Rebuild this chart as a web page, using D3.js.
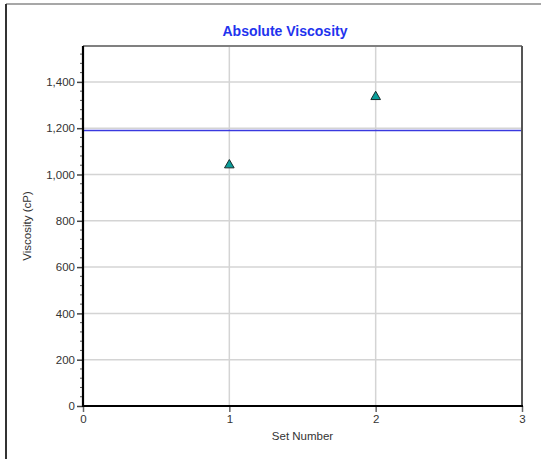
<!DOCTYPE html>
<html><head><meta charset="utf-8">
<script src="https://cdn.jsdelivr.net/npm/d3@7"></script>
<style>body{margin:0;background:#fff;}svg{display:block;}</style>
</head><body>
<svg id="c" width="541" height="459"></svg>
<script>
const setNumbers = [1, 2];
const viscosity = [1045, 1340];
const referenceLine = 1190;
const xTicks = [0, 1, 2, 3];
const yTicks = [0, 200, 400, 600, 800, 1000, 1200, 1400];
const title = "Absolute Viscosity";
const xLabel = "Set Number";
const yLabel = "Viscosity (cP)";

const svg = d3.select("#c");
const L = 83, R = 522, T = 46, B = 406;
const x = d3.scaleLinear().domain([0, 3]).range([L, R]);
const y = d3.scaleLinear().domain([0, 1555]).range([B, T]);

// outer frame
svg.append("line").attr("x1",6).attr("y1",4).attr("x2",541).attr("y2",4).attr("stroke","#8a8a8a").attr("stroke-width",1.5);
svg.append("line").attr("x1",6).attr("y1",4).attr("x2",6).attr("y2",459).attr("stroke","#333").attr("stroke-width",2);

// grid
svg.append("g").selectAll("line").data(yTicks.filter(d=>d>0)).join("line")
  .attr("x1",L).attr("x2",R).attr("y1",d=>y(d)).attr("y2",d=>y(d))
  .attr("stroke","#d4d4d4").attr("stroke-width",1.5);
svg.append("g").selectAll("line").data(xTicks.filter(d=>d>0&&d<3)).join("line")
  .attr("y1",T).attr("y2",B).attr("x1",d=>x(d)).attr("x2",d=>x(d))
  .attr("stroke","#d4d4d4").attr("stroke-width",1.5);

// reference line
svg.append("line").attr("x1",L).attr("x2",R).attr("y1",y(referenceLine)).attr("y2",y(referenceLine))
  .attr("stroke","#3a3adf").attr("stroke-width",1.3);

// plot border top/right
svg.append("line").attr("x1",L).attr("x2",R).attr("y1",T).attr("y2",T).attr("stroke","#808080").attr("stroke-width",2);
svg.append("line").attr("x1",R).attr("x2",R).attr("y1",T).attr("y2",B).attr("stroke","#555").attr("stroke-width",2);

// y axis
const yAxis = d3.axisLeft(y).tickValues(yTicks).tickSize(6).tickPadding(2).tickFormat(d3.format(","));
const gy = svg.append("g").attr("transform",`translate(${L},0)`).call(yAxis);
gy.select(".domain").remove();
gy.selectAll(".tick line").attr("stroke","#444").attr("stroke-width",1.5);
gy.selectAll("text").attr("font-family","Liberation Sans, Arial, sans-serif").attr("font-size",11.5).attr("fill","#333");
// minor ticks
const minor = d3.range(40, 1555, 40).filter(v => v % 200 !== 0);
svg.append("g").selectAll("line").data(minor).join("line")
  .attr("x1",L-3).attr("x2",L).attr("y1",d=>y(d)).attr("y2",d=>y(d)).attr("stroke","#555").attr("stroke-width",1);
svg.append("line").attr("x1",L).attr("x2",L).attr("y1",T).attr("y2",B+1).attr("stroke","#000").attr("stroke-width",2.2);

// x axis
const xAxis = d3.axisBottom(x).tickValues(xTicks).tickSize(6).tickPadding(3).tickFormat(d3.format("d"));
const gx = svg.append("g").attr("transform",`translate(0,${B})`).call(xAxis);
gx.select(".domain").remove();
gx.selectAll(".tick line").attr("stroke","#666").attr("stroke-width",1.5);
gx.selectAll("text").attr("font-family","Liberation Sans, Arial, sans-serif").attr("font-size",11.5).attr("fill","#333");
svg.append("line").attr("x1",L-1).attr("x2",R+1).attr("y1",B).attr("y2",B).attr("stroke","#000").attr("stroke-width",2.2);

// points
const tri = d3.symbol().type(d3.symbolTriangle).size(40);
svg.append("g").selectAll("path").data(setNumbers.map((s,i)=>({s,v:viscosity[i]}))).join("path")
  .attr("d",tri).attr("transform",d=>`translate(${x(d.s)},${y(d.v)+1})`)
  .attr("fill","#0a9e9a").attr("stroke","#1a2a2a").attr("stroke-width",1);

// labels
svg.append("text").attr("x",285).attr("y",35.5).attr("text-anchor","middle")
  .attr("font-family","Liberation Sans, Arial, sans-serif").attr("font-size",14).attr("font-weight","bold")
  .attr("fill","#2233ee").text(title);
svg.append("text").attr("x",(L+R)/2).attr("y",440).attr("text-anchor","middle")
  .attr("font-family","Liberation Sans, Arial, sans-serif").attr("font-size",11.5).attr("fill","#333").text(xLabel);
svg.append("text").attr("transform",`translate(31,${(T+B)/2}) rotate(-90)`).attr("text-anchor","middle")
  .attr("font-family","Liberation Sans, Arial, sans-serif").attr("font-size",11.5).attr("fill","#333").text(yLabel);
</script>
</body></html>
